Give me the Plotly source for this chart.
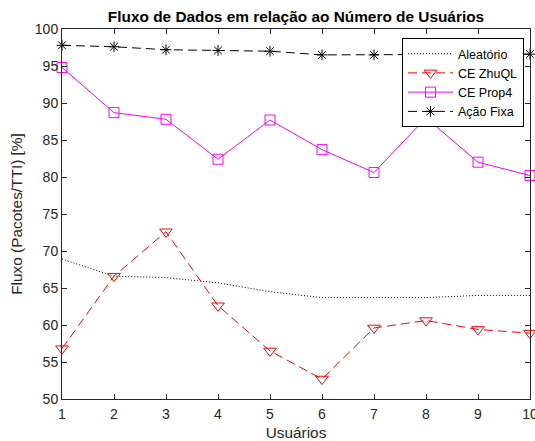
import plotly.graph_objects as go

usuarios = [1, 2, 3, 4, 5, 6, 7, 8, 9, 10]
aleatorio = [68.9, 66.6, 66.4, 65.7, 64.5, 63.7, 63.7, 63.7, 64.0, 64.0]
ce_zhuql = [56.8, 66.6, 72.6, 62.6, 56.5, 52.7, 59.6, 60.6, 59.4, 58.9]
ce_prop4 = [94.8, 88.7, 87.8, 82.4, 87.7, 83.7, 80.6, 88.0, 82.0, 80.2]
acao_fixa = [97.8, 97.6, 97.2, 97.1, 97.0, 96.5, 96.5, 96.5, 96.5, 96.6]

FONT = "Liberation Sans, Arial, sans-serif"
AX = "#262626"

fig = go.Figure()
fig.add_trace(go.Scatter(x=usuarios, y=aleatorio, name="Aleatório", mode="lines",
                         line=dict(color="black", width=1, dash="1px,2px"), cliponaxis=False))
fig.add_trace(go.Scatter(x=usuarios, y=ce_zhuql, name="CE ZhuQL", mode="lines+markers",
                         line=dict(color="#ff0000", width=1, dash="9px,5px"),
                         marker=dict(symbol="triangle-down-open", size=11, color="#ff0000", line=dict(width=1)),
                         cliponaxis=False))
fig.add_trace(go.Scatter(x=usuarios, y=ce_prop4, name="CE Prop4", mode="lines+markers",
                         line=dict(color="#ff00ff", width=1),
                         marker=dict(symbol="square-open", size=10, color="#ff00ff", line=dict(width=1)),
                         cliponaxis=False))
fig.add_trace(go.Scatter(x=usuarios, y=acao_fixa, name="Ação Fixa", mode="lines+markers",
                         line=dict(color="black", width=1, dash="9px,5px"),
                         marker=dict(symbol="asterisk-open", size=9, color="black", line=dict(width=1, color="black")),
                         cliponaxis=False))

fig.update_layout(
    width=535, height=441,
    margin=dict(l=62, r=5, t=29, b=42, autoexpand=False),
    paper_bgcolor="white", plot_bgcolor="white",
    font=dict(family=FONT, size=14, color=AX),
    title=dict(text="<b>Fluxo de Dados em relação ao Número de Usuários</b>",
               x=(62 + 530) / 2 / 535, xanchor="center", y=1 - 17 / 441, yanchor="middle",
               font=dict(size=15.4, color="black")),
    showlegend=True,
    legend=dict(x=(402 - 62) / 468, y=(399 - 38) / 370, xanchor="left", yanchor="top",
                bgcolor="white", bordercolor="black", borderwidth=1,
                font=dict(size=12.5, color="black"), tracegroupgap=0, itemwidth=45),
)
fig.update_xaxes(range=[1, 10], tickvals=usuarios, ticktext=[str(u) for u in usuarios],
                 showgrid=False, zeroline=False, showline=True, linecolor=AX, linewidth=1,
                 mirror="ticks", ticks="inside", ticklen=5, tickcolor=AX, ticklabeloverflow="allow",
                 automargin=False, ticklabelstandoff=2,
                 title=dict(text="Usuários", standoff=7, font=dict(size=15.4, color=AX)),
                 tickfont=dict(size=14, color=AX))
fig.update_yaxes(range=[50, 100], tickvals=[50, 55, 60, 65, 70, 75, 80, 85, 90, 95, 100],
                 showgrid=False, zeroline=False, showline=True, linecolor=AX, linewidth=1,
                 mirror="ticks", ticks="inside", ticklen=5, tickcolor=AX, automargin=False,
                 title=dict(text="Fluxo (Pacotes/TTI) [%]", standoff=8, font=dict(size=15.4, color=AX)),
                 tickfont=dict(size=14, color=AX))

fig.write_html("out.html")
